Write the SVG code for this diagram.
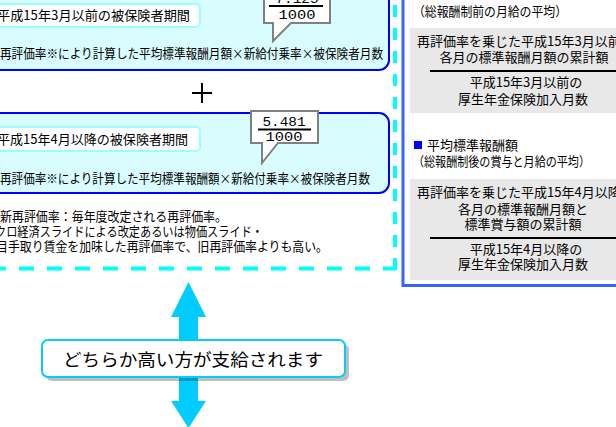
<svg xmlns="http://www.w3.org/2000/svg" width="616" height="427" viewBox="0 0 616 427">
<style>
text{font-family:"Noto Sans CJK JP","Noto Sans",sans-serif;font-size:13px;fill:#000}
.big{fill:#d9fcff;stroke:#0000ff;stroke-width:2}
.lbl{fill:#fff;stroke:#99ffff;stroke-width:2}
.callout{fill:#fff;stroke:#808080;stroke-width:2}
.gray{fill:#e8e8e8}
.rule{stroke:#000;stroke-width:2}
.mid{text-anchor:middle}
.num{font-family:"Liberation Mono",monospace;font-size:13px}
</style>
<rect width="616" height="427" fill="#fff"/>

<g id="period-before">
<rect class="big" x="-10" y="-20" width="399" height="90" rx="10"/>
<rect class="lbl" x="-10" y="4" width="210" height="23" rx="4"/>
<text x="-3" y="20" textLength="193" lengthAdjust="spacingAndGlyphs">平成15年3月以前の被保険者期間</text>
<text x="0" y="58" textLength="383" lengthAdjust="spacingAndGlyphs">再評価率※により計算した平均標準報酬月額×新給付乗率×被保険者月数</text>
</g>
<g id="callout-before">
<path class="callout" d="M264,-12H330V23H291L273,41V23H264Z"/>
<text class="num mid" x="297" y="3" textLength="43" lengthAdjust="spacingAndGlyphs">7.125</text>
<line class="rule" x1="269" y1="6" x2="323" y2="6" stroke-width="1.5"/>
<text class="num mid" x="297" y="18.5" textLength="37" lengthAdjust="spacingAndGlyphs">1000</text>
</g>

<g id="plus">
<line x1="192" y1="93" x2="212" y2="93" stroke="#000" stroke-width="2"/>
<line x1="202" y1="83" x2="202" y2="103" stroke="#000" stroke-width="2"/>
</g>

<g id="period-after">
<rect class="big" x="-10" y="113" width="399" height="80" rx="10"/>
<rect class="lbl" x="-10" y="127" width="210" height="24" rx="4"/>
<text x="-3" y="143.5" textLength="191" lengthAdjust="spacingAndGlyphs">平成15年4月以降の被保険者期間</text>
<text x="0" y="182.5" textLength="370" lengthAdjust="spacingAndGlyphs">再評価率※により計算した平均標準報酬額×新給付乗率×被保険者月数</text>
</g>
<g id="callout-after">
<path class="callout" d="M251,111H318V143H278L262,163V143H251Z"/>
<text class="num mid" x="284" y="126" textLength="43" lengthAdjust="spacingAndGlyphs">5.481</text>
<line class="rule" x1="258" y1="129.5" x2="311" y2="129.5" stroke-width="1.5"/>
<text class="num mid" x="284" y="141" textLength="37" lengthAdjust="spacingAndGlyphs">1000</text>
</g>

<g id="notes">
<text x="0" y="221" textLength="227" lengthAdjust="spacingAndGlyphs">新再評価率：毎年度改定される再評価率。</text>
<text x="-5" y="236" textLength="268" lengthAdjust="spacingAndGlyphs">クロ経済スライドによる改定あるいは物価スライド・</text>
<text x="-4" y="251" textLength="332" lengthAdjust="spacingAndGlyphs">目手取り賃金を加味した再評価率で、旧再評価率よりも高い。</text>
</g>

<g id="dashed-frame" fill="none" stroke="#00ffff" stroke-width="4">
<line x1="395" y1="5" x2="395" y2="270" stroke-dasharray="12 11"/>
<line x1="-9" y1="268.5" x2="397" y2="268.5" stroke-dasharray="15 13"/>
</g>

<g id="right-panel">
<rect x="403" y="-10" width="250" height="295.5" fill="none" stroke="#3366ff" stroke-width="3"/>
<text x="413" y="16" textLength="154" lengthAdjust="spacingAndGlyphs">（総報酬制前の月給の平均）</text>
<g id="formula-before">
<rect class="gray" x="410" y="28" width="240" height="85"/>
<text x="417" y="46">再評価率を乗じた平成15年3月以前の</text>
<text class="mid" x="524" y="62">各月の標準報酬月額の累計額</text>
<line class="rule" x1="430" y1="71" x2="620" y2="71"/>
<text class="mid" x="526" y="87">平成15年3月以前の</text>
<text class="mid" x="523" y="104">厚生年金保険加入月数</text>
</g>
<rect x="414" y="141" width="8" height="8" fill="#0000ff"/>
<text x="427" y="150">平均標準報酬額</text>
<text x="413" y="166" textLength="177" lengthAdjust="spacingAndGlyphs">（総報酬制後の賞与と月給の平均）</text>
<g id="formula-after">
<rect class="gray" x="410" y="179" width="240" height="101"/>
<text x="417" y="197">再評価率を乗じた平成15年4月以降の</text>
<text class="mid" x="523" y="214">各月の標準報酬月額と</text>
<text class="mid" x="523" y="229">標準賞与額の累計額</text>
<line class="rule" x1="430" y1="238" x2="620" y2="238"/>
<text class="mid" x="526" y="254">平成15年4月以降の</text>
<text class="mid" x="523" y="269">厚生年金保険加入月数</text>
</g>
</g>

<g id="connectors">
<path d="M188.5,282L206,317H198V345H179V317H171Z" fill="#00ccff"/>
<path d="M179,370H198V401H206L188.5,428L171,401H179Z" fill="#00ccff"/>
</g>

<g id="result">
<rect x="46" y="344" width="303" height="37" rx="6" fill="#000" fill-opacity="0.25"/>
<rect x="42" y="340" width="303" height="37" rx="6" fill="#fff" stroke="#00ccff" stroke-width="2"/>
<text x="63" y="366" font-size="17" style="font-size:17px" textLength="260" lengthAdjust="spacingAndGlyphs">どちらか高い方が支給されます</text>
</g>
</svg>
